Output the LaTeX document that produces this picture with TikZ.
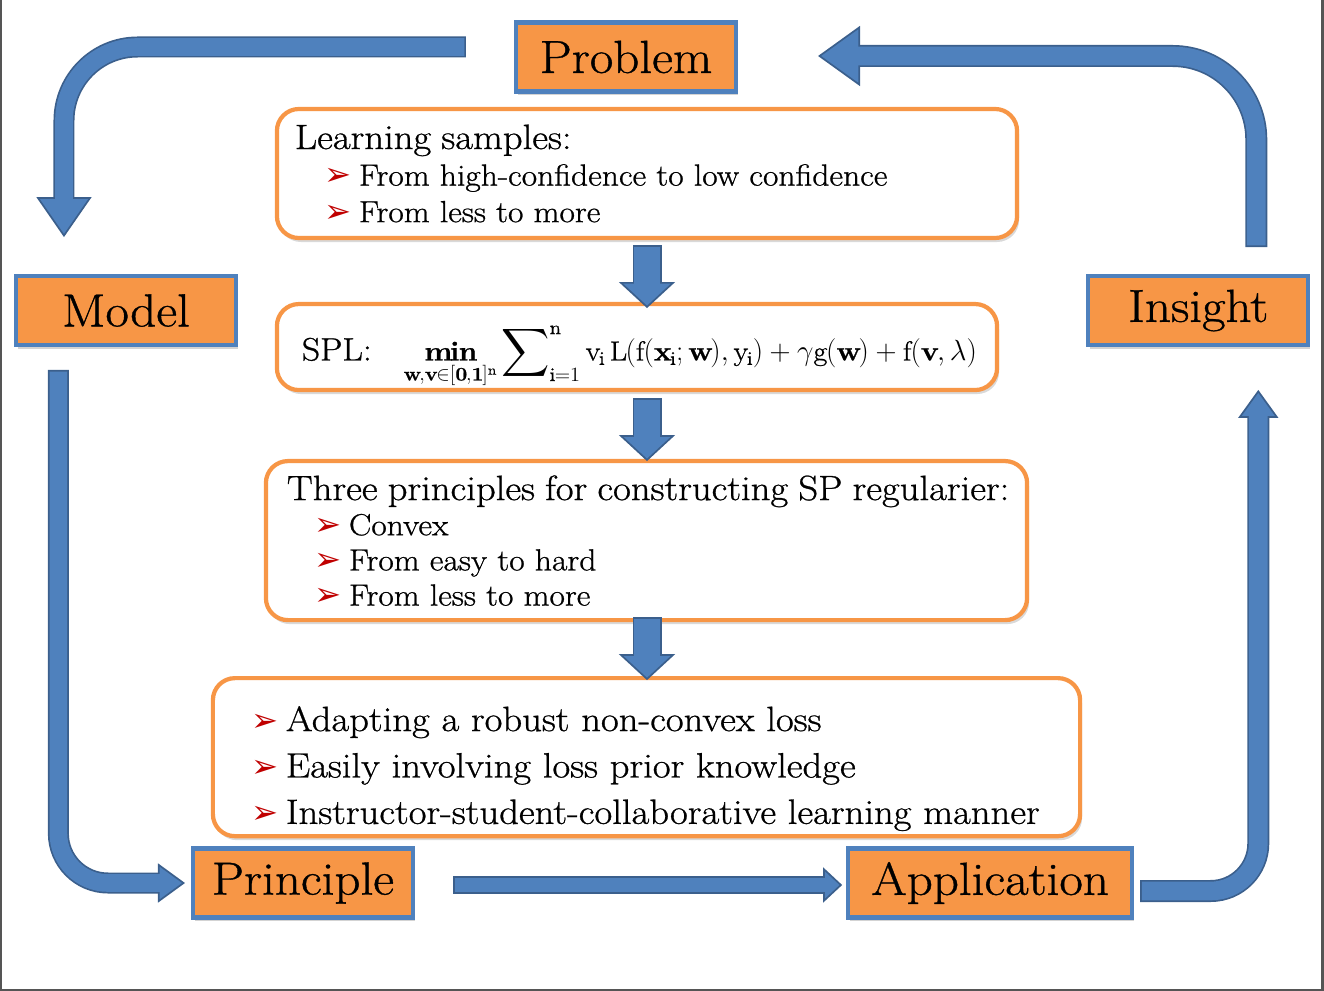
\documentclass[tikz,border=0pt]{standalone}
\usepackage{fontspec}
\usepackage{amsmath}
\usetikzlibrary{arrows.meta, positioning, shadows, calc}
\setmainfont{Latin Modern Roman}[FakeStretch=1.1, FakeBold=0.8]
\newfontfamily\symfont{DejaVu Sans}
\setlength{\parindent}{0pt}
\definecolor{stagefill}{HTML}{F79646}
\definecolor{stageedge}{HTML}{4F81BD}
\definecolor{paneledge}{HTML}{F79646}
\definecolor{arrowfill}{HTML}{4F81BD}
\definecolor{arrowline}{HTML}{3B5F8C}
\definecolor{pointred}{HTML}{C00000}
\definecolor{framegray}{HTML}{555555}
\newcommand{\pointer}[1]{\hspace*{#1}\makebox[0.85cm][l]{\textcolor{pointred}{\fontsize{23}{23}\symfont ➢}}}

\begin{document}
\begin{tikzpicture}[
    x=0.025cm, y=-0.025cm,
    stage/.style={draw=stageedge, fill=stagefill, line width=3pt, minimum width=5.5cm, minimum height=1.72cm, outer sep=0pt, inner sep=0pt, font=\fontsize{33}{36}\selectfont, drop shadow={shadow xshift=0.05cm, shadow yshift=-0.1cm, opacity=0.35}},
    panel/.style={draw=paneledge, fill=white, line width=3pt, rounded corners=0.55cm, align=left, outer sep=0pt, inner xsep=0pt, drop shadow={shadow xshift=0.05cm, shadow yshift=-0.1cm, opacity=0.3}},
    bigarrow/.style n args={3}{draw=arrowline, line width=#1, -{Triangle[length=#2, width=#3, fill=arrowfill, line width=1.2pt]}, postaction={draw=arrowfill, line width=#1-2.4pt, -, shorten >=#2-1.6pt, shorten <=1.2pt}}
]
\useasboundingbox (0,0) rectangle (1324,991);
\draw[framegray, line width=1.5pt] (1,0) |- (1322.5,990) -- (1322.5,0);

% Stages of the loop
\node[stage] (problem) at (626,57) {Problem};
\node[stage] (model) at (126,310.5) {Model};
\node[stage, right=21.3cm of model] (insight) {Insight};
\node[stage] (principle) at (303,883) {Principle};
\node[stage, minimum width=7.1cm, right=10.875cm of principle] (application) {Application};

% Panels in the middle
\node[panel, minimum width=18.5cm, text width=18.5cm, minimum height=3.225cm, font=\fontsize{21.7}{26}\selectfont] (samples) at (647,173.5) {\hspace*{0.45cm}{\fontsize{25}{26}\selectfont Learning samples:}\\
  \pointer{1.2cm}From high-confidence to low confidence\\
  \pointer{1.2cm}From less to more};
\node[panel, minimum width=18cm, text width=18cm, minimum height=2.15cm, inner ysep=0pt, font=\fontsize{19.5}{24}\selectfont, below=1.65cm of samples, xshift=-0.25cm] (spl) {\rule{0pt}{39pt}\hspace*{0.625cm}{\fontsize{23}{23}\selectfont SPL:}\hspace{0.8cm}$\displaystyle\mathop{\mathbf{min}}\limits_{\mathbf{w},\mathbf{v}\in[\mathbf{0},\mathbf{1}]^{\mathrm{n}}}\mathop{\vcenter{\hbox{\scalebox{1.15}{$\displaystyle\sum$}}}}\nolimits_{\mathrm{i}=1}^{\mathrm{n}}\mathrm{v}_{\mathrm{i}}\,\mathrm{L}(\mathrm{f}(\mathbf{x}_{\mathrm{i}};\mathbf{w}),\mathrm{y}_{\mathrm{i}})+\gamma\mathrm{g}(\mathbf{w})+\mathrm{f}(\mathbf{v},\lambda)$};
\node[panel, minimum width=19.025cm, text width=19.025cm, minimum height=3.975cm, font=\fontsize{21.7}{25}\selectfont, below=1.775cm of spl, xshift=0.2375cm] (rules) {\hspace*{0.525cm}{\fontsize{25}{25}\selectfont Three principles for constructing SP regularier:}\\
  \pointer{1.225cm}Convex\\
  \pointer{1.225cm}From easy to hard\\
  \pointer{1.225cm}From less to more};
\node[panel, minimum width=21.675cm, text width=21.675cm, minimum height=3.95cm, font=\fontsize{25}{33}\selectfont, below=1.45cm of rules] (merits) {\rule{0pt}{34pt}\pointer{0.975cm}Adapting a robust non-convex loss\\
  \pointer{0.975cm}Easily involving loss prior knowledge\\
  \pointer{0.975cm}Instructor-student-collaborative learning manner};

% Down arrows between panels
\draw[bigarrow={0.725cm}{0.65cm}{1.4cm}] ($(samples.south)+(0,7)$) -- ($(samples.south |- spl.north)+(0,4)$);
\draw[bigarrow={0.725cm}{0.65cm}{1.4cm}] ($(samples.south |- spl.south)+(0,8)$) -- (samples.south |- rules.north);
\draw[bigarrow={0.725cm}{0.65cm}{1.4cm}] ($(samples.south |- rules.south)+(0,-3)$) -- ($(samples.south |- merits.north)+(0,2)$);

% Loop arrows
\draw[bigarrow={0.525cm}{1cm}{1.375cm}, rounded corners=1.84cm] ([xshift=-1.25cm, yshift=0.25cm]problem.west) -| ([xshift=-1.55cm, yshift=0.975cm]model.north);
\draw[bigarrow={0.525cm}{0.675cm}{0.975cm}, rounded corners=1.24cm] ([xshift=-1.69cm, yshift=-0.625cm]model.south) |- ([xshift=-0.2cm]principle.west);
\draw[bigarrow={0.45cm}{0.475cm}{0.875cm}] ([xshift=1cm, yshift=-0.05cm]principle.east) -- ([xshift=-0.15cm, yshift=-0.05cm]application.west);
\draw[bigarrow={0.55cm}{0.7cm}{1cm}, rounded corners=1.19cm] ([xshift=0.2cm, yshift=-0.2cm]application.east) -| ([xshift=1.5cm, yshift=-1.125cm]insight.south);
\draw[bigarrow={0.55cm}{1.05cm}{1.5cm}, rounded corners=2.09cm] ([xshift=1.45cm, yshift=0.725cm]insight.north) |- ([xshift=2.05cm, yshift=0.025cm]problem.east);

\end{tikzpicture}
\end{document}
